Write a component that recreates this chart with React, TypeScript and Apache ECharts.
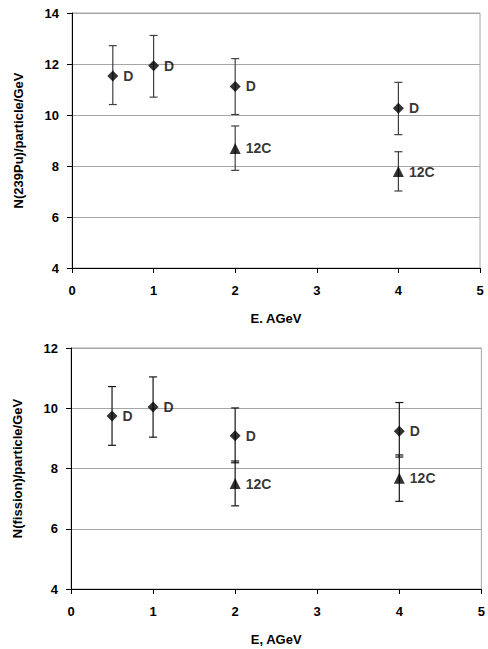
import React, { useEffect, useRef } from "react";
import * as echarts from "echarts";

// ---- Top panel: N(239Pu)/particle/GeV ----
const puD_E = [0.5, 1, 2, 4];
const puD_val = [11.53, 11.93, 11.12, 10.26];
const puD_lo = [10.41, 10.7, 10.02, 9.23];
const puD_hi = [12.72, 13.12, 12.21, 11.28];
const puC_E = [2, 4];
const puC_val = [8.69, 7.78];
const puC_lo = [7.83, 7.02];
const puC_hi = [9.57, 8.56];

// ---- Bottom panel: N(fission)/particle/GeV ----
const fD_E = [0.5, 1, 2, 4];
const fD_val = [9.74, 10.04, 9.09, 9.24];
const fD_lo = [8.77, 9.04, 8.19, 8.38];
const fD_hi = [10.72, 11.04, 10.01, 10.19];
const fC_E = [2, 4];
const fC_val = [7.5, 7.68];
const fC_lo = [6.76, 6.91];
const fC_hi = [8.25, 8.45];

const FONT = "'Liberation Sans', Arial, sans-serif";

function errData(E: number[], lo: number[], hi: number[]) {
  return E.map((e, i) => [e, lo[i], hi[i]]);
}
function pts(E: number[], v: number[]) {
  return E.map((e, i) => [e, v[i]]);
}

function errSeries(idx: number, data: number[][], color: string) {
  return {
    type: "custom",
    xAxisIndex: idx,
    yAxisIndex: idx,
    z: 1,
    data,
    encode: { x: 0, y: [1, 2] },
    renderItem: (params: any, api: any) => {
      const x = api.value(0);
      const pLo = api.coord([x, api.value(1)]);
      const pHi = api.coord([x, api.value(2)]);
      const w = 4;
      const st = { stroke: color, lineWidth: 1.2 };
      return {
        type: "group",
        children: [
          { type: "line", shape: { x1: pLo[0], y1: pLo[1], x2: pHi[0], y2: pHi[1] }, style: st },
          { type: "line", shape: { x1: pLo[0] - w, y1: pLo[1], x2: pLo[0] + w, y2: pLo[1] }, style: st },
          { type: "line", shape: { x1: pHi[0] - w, y1: pHi[1], x2: pHi[0] + w, y2: pHi[1] }, style: st },
        ],
      };
    },
  };
}

function markSeries(idx: number, data: number[][], symbol: string, size: number, label: string) {
  return {
    type: "scatter",
    xAxisIndex: idx,
    yAxisIndex: idx,
    z: 3,
    symbol,
    symbolSize: size,
    itemStyle: { color: "#000" },
    data,
    label: {
      show: true,
      position: "right",
      distance: 5,
      formatter: label,
      color: "#000",
      fontWeight: "bold",
      fontSize: 14,
      fontFamily: FONT,
    },
  };
}

function xAxis(idx: number, name: string) {
  return {
    type: "value",
    gridIndex: idx,
    min: 0,
    max: 5,
    interval: 1,
    name,
    nameLocation: "middle",
    nameGap: 44,
    nameTextStyle: { fontWeight: "bold", fontSize: 13, color: "#000", fontFamily: FONT },
    axisLine: { show: true, onZero: false, lineStyle: { color: "#000", width: 1 } },
    axisTick: { show: true, inside: false, length: 5, lineStyle: { color: "#000" } },
    axisLabel: { margin: 16, fontWeight: "bold", fontSize: 13, color: "#000", fontFamily: FONT },
    splitLine: { show: false },
  };
}

function yAxis(idx: number, max: number, name: string) {
  return {
    type: "value",
    gridIndex: idx,
    min: 4,
    max,
    interval: 2,
    name,
    nameLocation: "middle",
    nameGap: 47,
    nameTextStyle: { fontWeight: "bold", fontSize: 13, color: "#000", fontFamily: FONT },
    axisLine: { show: true, onZero: false, lineStyle: { color: "#000", width: 1 } },
    axisTick: { show: true, inside: false, length: 5, lineStyle: { color: "#000" } },
    axisLabel: { margin: 13, fontWeight: "bold", fontSize: 13, color: "#000", fontFamily: FONT },
    splitLine: { show: true, lineStyle: { color: "#a6a6a6", width: 1 } },
  };
}

export default function App() {
  const ref = useRef<HTMLDivElement>(null);
  useEffect(() => {
    document.body.style.margin = "0";
    const chart = echarts.init(ref.current!, undefined, { renderer: "svg" });
    chart.setOption({
      animation: false,
      backgroundColor: "#fff",
      textStyle: { fontFamily: FONT },
      grid: [
        { left: 72, right: 8, top: 13, height: 255, show: true, borderColor: "#a6a6a6", borderWidth: 1 },
        { left: 71, right: 5, top: 348, height: 241, show: true, borderColor: "#a6a6a6", borderWidth: 1 },
      ],
      xAxis: [xAxis(0, "E. AGeV"), xAxis(1, "E, AGeV")],
      yAxis: [yAxis(0, 14, "N(239Pu)/particle/GeV"), yAxis(1, 12, "N(fission)/particle/GeV")],
      series: [
        errSeries(0, errData(puD_E, puD_lo, puD_hi), "#404040"),
        errSeries(0, errData(puC_E, puC_lo, puC_hi), "#404040"),
        markSeries(0, pts(puD_E, puD_val), "diamond", 11, "D"),
        markSeries(0, pts(puC_E, puC_val), "triangle", 11, "12C"),
        errSeries(1, errData(fD_E, fD_lo, fD_hi), "#151515"),
        errSeries(1, errData(fC_E, fC_lo, fC_hi), "#151515"),
        markSeries(1, pts(fD_E, fD_val), "diamond", 11, "D"),
        markSeries(1, pts(fC_E, fC_val), "triangle", 11, "12C"),
      ],
    });
    return () => chart.dispose();
  }, []);
  return <div ref={ref} style={{ width: 488, height: 649 }} />;
}
